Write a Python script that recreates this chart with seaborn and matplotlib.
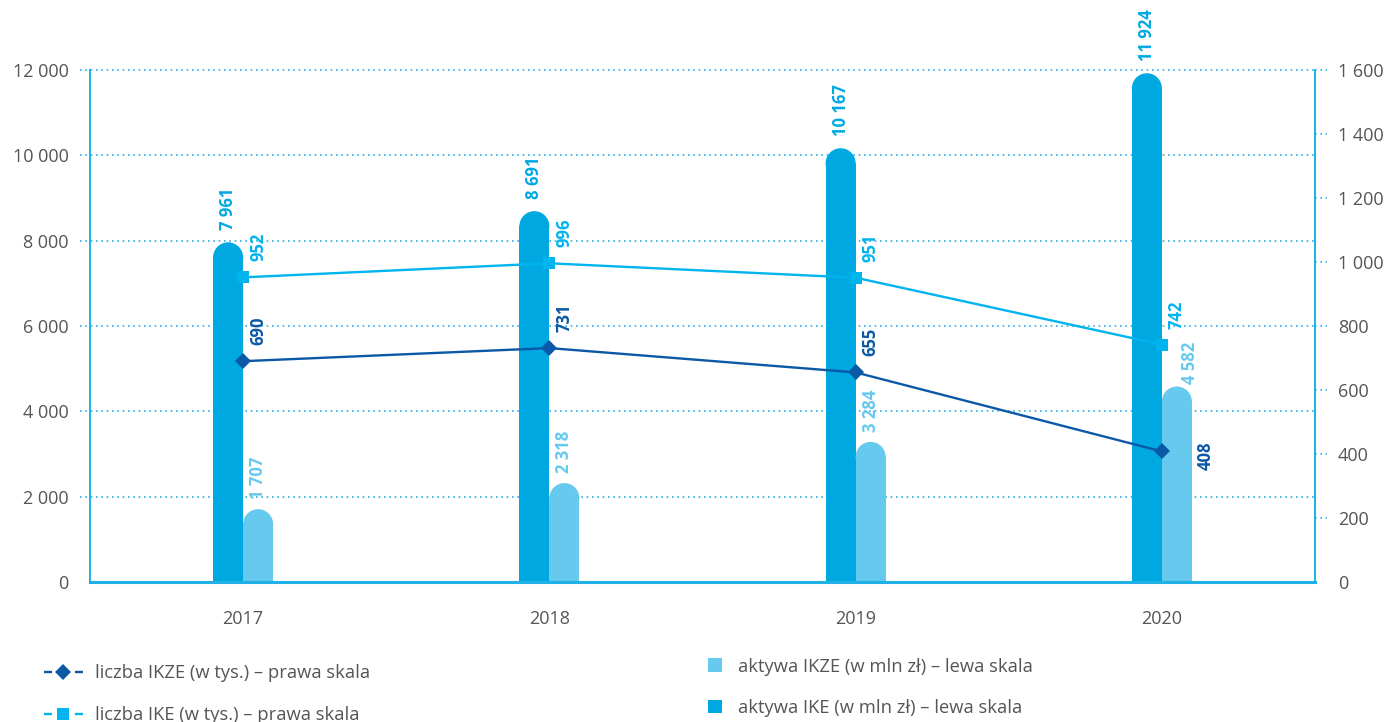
import numpy as np
import pandas as pd
import seaborn as sns
import matplotlib
matplotlib.use("Agg")
import matplotlib.pyplot as plt
from matplotlib.patches import Rectangle, Ellipse, Patch
from matplotlib.lines import Line2D

# ---------------- data ----------------
years = ["2017", "2018", "2019", "2020"]
aktywa_ike = [7961, 8691, 10167, 11924]      # mln zł, left scale
aktywa_ikze = [1707, 2318, 3284, 4582]       # mln zł, left scale
liczba_ike = [952, 996, 951, 742]            # tys., right scale
liczba_ikze = [690, 731, 655, 408]           # tys., right scale
left_ticks = [0, 2000, 4000, 6000, 8000, 10000, 12000]
right_ticks = [0, 200, 400, 600, 800, 1000, 1200, 1400, 1600]
legend_labels = [
    "liczba IKZE (w tys.) – prawa skala",
    "liczba IKE (w tys.) – prawa skala",
    "aktywa IKZE (w mln zł) – lewa skala",
    "aktywa IKE (w mln zł) – lewa skala",
]

# ---------------- style ----------------
C_IKE_BAR = "#00a8e2"
C_IKZE_BAR = "#66c9ee"
C_IKE_LINE = "#00b4ee"
C_IKZE_LINE = "#0b58a6"
C_AXIS = "#1fb0e6"
C_GRID = "#2cb3e6"
C_TEXT = "#555555"

sns.set_theme(style="white")
plt.rcParams["font.family"] = ["Open Sans", "DejaVu Sans"]

W, H = 1391, 722
fig = plt.figure(figsize=(W / 100, H / 100), dpi=100)
L, R, T, B = 90, 1315, 70, 582
ax = fig.add_axes([L / W, 1 - B / H, (R - L) / W, (B - T) / H])

def fmt(v):
    return f"{v:,}".replace(",", " ")

df = pd.DataFrame({
    "rok": years * 2,
    "seria": ["IKE"] * len(years) + ["IKZE"] * len(years),
    "wartosc": aktywa_ike + aktywa_ikze,
})
sns.barplot(data=df, x="rok", y="wartosc", hue="seria", hue_order=["IKE", "IKZE"],
            palette=[C_IKE_BAR, C_IKZE_BAR], width=0.196, dodge=True,
            saturation=1, errorbar=None, legend=False, ax=ax)

ax.set_xlim(-0.5, len(years) - 0.5)
ax.set_ylim(left_ticks[0], left_ticks[-1])

# aspect (y-units per x-unit at equal pixel length) for circular bar caps
px_x = (R - L) / (len(years))
px_y = (B - T) / (left_ticks[-1] - left_ticks[0])
aspect = px_x / px_y

bars = list(ax.patches)
bar_info = []
for p in bars:
    x0, w, h = p.get_x(), p.get_width(), p.get_height()
    fc = p.get_facecolor()
    p.remove()
    ry = (w / 2) * aspect
    ax.add_patch(Rectangle((x0, 0), w, h - ry, fc=fc, ec="none", zorder=2))
    ax.add_patch(Ellipse((x0 + w / 2, h - ry), w, 2 * ry, fc=fc, ec="none", zorder=2))
    bar_info.append((x0 + w / 2, h, fc))

# bar value labels
ikze_bar_texts = []
for cx, h, fc in bar_info:
    is_ike = np.allclose(fc[:3], matplotlib.colors.to_rgb(C_IKE_BAR))
    t = ax.annotate(fmt(int(round(h))), xy=(cx, h),
                    xytext=(0, 9 if is_ike else 7), textcoords="offset points",
                    rotation=90, ha="center", va="bottom", fontsize=12,
                    fontweight="bold", color=C_IKE_BAR if is_ike else C_IKZE_BAR,
                    zorder=6)
    if not is_ike:
        ikze_bar_texts.append(t)

# grid (dotted, extends as ticks left of the axis)
for v in left_ticks[1:]:
    ax.axhline(v, xmin=-10 / (R - L), xmax=1, ls=(0, (1, 2.2)), lw=1.2,
               color=C_GRID, clip_on=False, zorder=0.5)

ax.set_yticks(left_ticks)
ax.set_yticklabels([fmt(v) for v in left_ticks])
ax.set_xticks(range(len(years)))
ax.set_xticklabels(years)
ax.tick_params(axis="y", length=0, pad=15.5, labelsize=13, labelcolor=C_TEXT)
ax.tick_params(axis="x", length=0, pad=20, labelsize=13, labelcolor=C_TEXT)
ax.set_xlabel("")
ax.set_ylabel("")
for s in ["top", "right"]:
    ax.spines[s].set_visible(False)
ax.spines["left"].set_color(C_AXIS)
ax.spines["left"].set_linewidth(1.4)
ax.spines["bottom"].set_color(C_AXIS)
ax.spines["bottom"].set_linewidth(2.2)
ax.spines["bottom"].set_zorder(5)

# ---------------- right axis lines ----------------
ax2 = ax.twinx()
xpos = np.arange(len(years))
sns.lineplot(x=xpos, y=liczba_ikze, ax=ax2, color=C_IKZE_LINE, lw=1.7,
             marker="D", markersize=8.5, markeredgewidth=0, zorder=4)
sns.lineplot(x=xpos, y=liczba_ike, ax=ax2, color=C_IKE_LINE, lw=1.7,
             marker="s", markersize=8.5, markeredgewidth=0, zorder=4)
ax2.set_ylim(right_ticks[0], right_ticks[-1])
ax.set_xlim(-0.5, len(years) - 0.5)
ax2.set_yticks(right_ticks)
ax2.set_yticklabels([fmt(v) for v in right_ticks])
ax2.tick_params(axis="y", length=0, pad=16.5, labelsize=13, labelcolor=C_TEXT)
ax2.set_ylabel("")
for s in ["top", "left", "bottom"]:
    ax2.spines[s].set_visible(False)
ax2.spines["right"].set_color(C_AXIS)
ax2.spines["right"].set_linewidth(1.4)
for v in right_ticks[1:]:
    ax2.axhline(v, xmin=1, xmax=1 + 12 / (R - L), ls=(0, (1, 2.2)), lw=1.2,
                color=C_GRID, clip_on=False)

# line labels
line_texts = []
for i, v in enumerate(liczba_ike):
    line_texts.append(ax2.annotate(fmt(v), xy=(xpos[i], v), xytext=(10.8, 11.5),
                      textcoords="offset points", rotation=90, ha="center",
                      va="bottom", fontsize=12, fontweight="bold", color=C_IKE_LINE))
for i, v in enumerate(liczba_ikze):
    below_bar = v / right_ticks[-1] < aktywa_ikze[i] / left_ticks[-1]
    if below_bar:
        xy_off, va = (31.7, -3), "center"
    else:
        xy_off, va = (10.8, 11.5), "bottom"
    line_texts.append(ax2.annotate(fmt(v), xy=(xpos[i], v), xytext=xy_off,
                      textcoords="offset points", rotation=90, ha="center",
                      va=va, fontsize=12, fontweight="bold", color=C_IKZE_LINE))

# nudge bar labels that crowd line labels to the right
fig.canvas.draw()
rend = fig.canvas.get_renderer()
for t in ikze_bar_texts:
    bb = t.get_window_extent(rend).padded(8)
    for lt in line_texts:
        if bb.overlaps(lt.get_window_extent(rend)):
            dx, dy = t.xyann
            t.xyann = (dx + 9.4, dy - 5.5)
            break

# ---------------- legends ----------------
lw = 1.7
line_handles = [
    Line2D([], [], color=C_IKZE_LINE, lw=lw, marker="D", ms=8,
           markeredgewidth=0, ls=(0, (5.8 / lw, 16.5 / lw))),
    Line2D([], [], color=C_IKE_LINE, lw=lw, marker="s", ms=8,
           markeredgewidth=0, ls=(0, (5.8 / lw, 16.5 / lw))),
]
leg1 = fig.legend(handles=line_handles, labels=legend_labels[:2],
                  loc="upper left", bbox_to_anchor=(27 / W, 1 - 648 / H),
                  frameon=False, fontsize=13.2, handlelength=2.15,
                  handletextpad=0.66, labelspacing=1.28, borderpad=0.4,
                  labelcolor=C_TEXT)
patch_handles = [Patch(fc=C_IKZE_BAR, ec="none"), Patch(fc=C_IKE_BAR, ec="none")]
leg2 = fig.legend(handles=patch_handles, labels=legend_labels[2:],
                  loc="upper left", bbox_to_anchor=(691 / W, 1 - 641 / H),
                  frameon=False, fontsize=13.2, handlelength=0.77,
                  handleheight=0.77, handletextpad=0.89, labelspacing=1.28,
                  borderpad=0.4, labelcolor=C_TEXT)

fig.savefig("out.png", dpi=100)
